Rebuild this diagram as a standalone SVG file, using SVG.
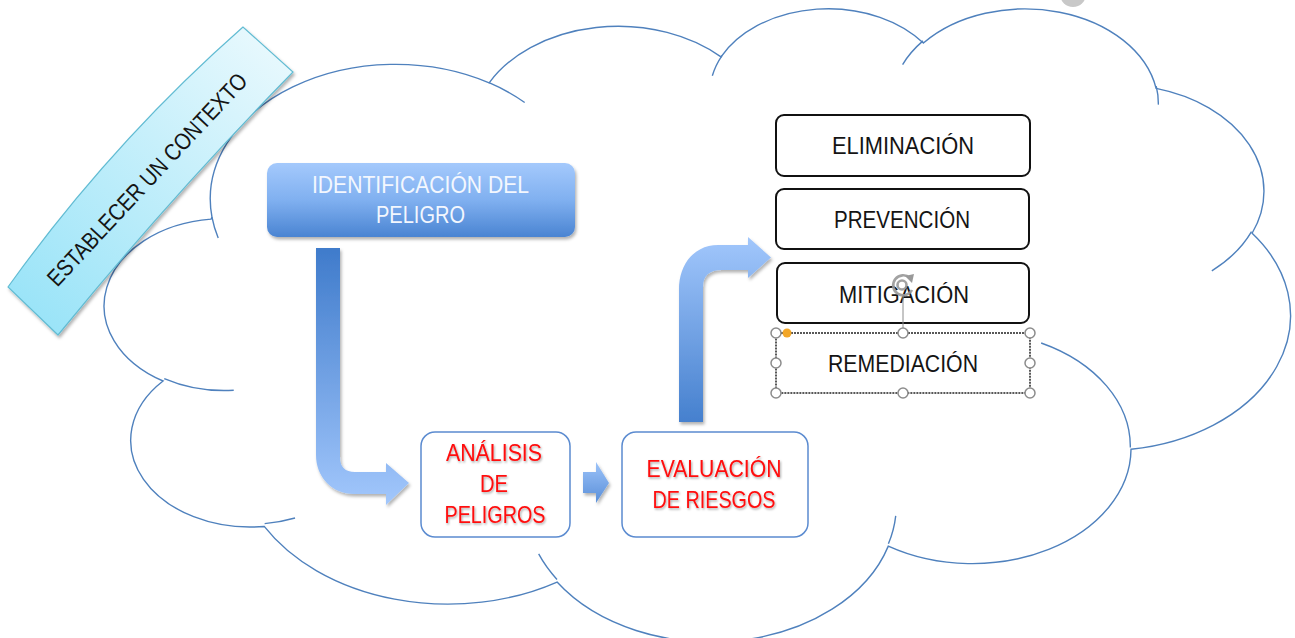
<svg xmlns="http://www.w3.org/2000/svg" width="1295" height="638" viewBox="0 0 1295 638">
<defs>
<linearGradient id="gId" x1="0" y1="0" x2="0" y2="1"><stop offset="0" stop-color="#A4C9FC"/><stop offset="0.5" stop-color="#80B0F0"/><stop offset="1" stop-color="#4A84D2"/></linearGradient>
<linearGradient id="gBan" gradientUnits="userSpaceOnUse" x1="268" y1="50" x2="33" y2="311"><stop offset="0" stop-color="#E6F8FD"/><stop offset="1" stop-color="#9BE4F8"/></linearGradient>
<linearGradient id="gA1" gradientUnits="userSpaceOnUse" x1="0" y1="248" x2="0" y2="505"><stop offset="0" stop-color="#3F7BCB"/><stop offset="1" stop-color="#A2C7FC"/></linearGradient>
<linearGradient id="gA2" gradientUnits="userSpaceOnUse" x1="0" y1="462" x2="0" y2="503"><stop offset="0" stop-color="#9CC3F9"/><stop offset="1" stop-color="#5A8FD9"/></linearGradient>
<linearGradient id="gA3" gradientUnits="userSpaceOnUse" x1="0" y1="422" x2="0" y2="237"><stop offset="0" stop-color="#4580CE"/><stop offset="1" stop-color="#A2C7FC"/></linearGradient>
<filter id="sh" x="-10%" y="-10%" width="130%" height="140%"><feDropShadow dx="1.5" dy="2.5" stdDeviation="1.8" flood-color="#000" flood-opacity="0.3"/></filter>
<filter id="tsh" x="-10%" y="-20%" width="130%" height="150%"><feDropShadow dx="1" dy="1.5" stdDeviation="1" flood-color="#000" flood-opacity="0.35"/></filter>
</defs>
<style>
.cl{fill:#fff;stroke:#4F81BD;stroke-width:1.4;vector-effect:non-scaling-stroke}
.tl{fill:none;stroke:#4F81BD;stroke-width:1.4;vector-effect:non-scaling-stroke}
.t{font-family:"Liberation Sans",Arial,sans-serif;font-size:23.5px;text-anchor:middle}
.red{fill:#FF0A0A;font-size:24px}
.blk{fill:#141414}
.wb{fill:#fff;stroke:#111;stroke-width:2}
.bb{fill:#fff;stroke:#5B8BD0;stroke-width:1.5}
.h{fill:#fff;stroke:#8C8C8C;stroke-width:1.5}
</style>
<rect width="1295" height="638" fill="#fff"/>
<circle cx="1073" cy="-6" r="13" fill="#C8C8C8"/>
<g id="cloud" transform="translate(105,6.6) scale(0.02743,0.014654)">
<path class="cl" d="M3900,14370 A6753,9190 0 0 1 14005,5202 A5333,7267 0 0 1 22458,3435 A4365,5945 0 0 1 29836,2486 A4857,6595 0 0 1 38320,5584 A5333,7273 0 0 1 41820,15468 A6775,9220 0 0 1 37405,30208 A5785,7867 0 0 1 28556,36818 A6752,9215 0 0 1 16481,39269 A7720,10543 0 0 1 5805,35474 A4360,5918 0 0 1 2116,25549 A4345,5945 0 0 1 3866,14505 Z"/>
<path class="tl" d="M4693,26177 A4345,5945 0 0 1 2160,25380 M6928,34899 A4360,5918 0 0 1 5820,35281 M16478,39090 A6752,9215 0 0 1 15810,37350 M28827,34751 A6752,9215 0 0 1 28560,36661 M34129,22954 A5785,7867 0 0 1 37380,30090 M41798,15354 A5333,7273 0 0 1 40351,18029 M38324,5426 A4857,6595 0 0 1 38400,6690 M29078,3952 A4857,6595 0 0 1 29821,2338 M22141,4720 A4365,5945 0 0 1 22500,3330 M14000,5192 A6753,9190 0 0 1 15300,6541 M4127,15789 A6753,9190 0 0 1 3900,14370"/>
</g>
<g id="banner">
<path d="M8,287 Q110.7,143.6 243,27 L293,72 Q169.6,198.1 58,335 Z" fill="url(#gBan)" stroke="#62BCD3" stroke-width="1.2" filter="url(#sh)"/>
<text class="t blk" transform="translate(153,185) rotate(-47)" textLength="281" lengthAdjust="spacingAndGlyphs">ESTABLECER UN CONTEXTO</text>
</g>
<g id="identificacion">
<rect x="267" y="163" width="308" height="74" rx="10" fill="url(#gId)" filter="url(#sh)"/>
<text class="t" fill="#F3F7FE" x="420.5" y="193" textLength="217" lengthAdjust="spacingAndGlyphs">IDENTIFICACIÓN DEL</text>
<text class="t" fill="#F3F7FE" x="420.5" y="223" textLength="89" lengthAdjust="spacingAndGlyphs">PELIGRO</text>
</g>
<g id="connectors">
<path d="M316,248 L340,248 L340,457 Q340,472 355,472 L386,472 L386,463 L409,483 L386,505 L386,494 L354,494 C332,494 316,477 316,455 Z" fill="url(#gA1)" filter="url(#sh)"/>
<path d="M583,472 L596,472 L596,462 L609,483 L596,503 L596,493 L583,493 Z" fill="url(#gA2)" filter="url(#sh)"/>
<path d="M679,422 L703,422 L703,287 Q703,270 722,270 L748,270 L748,278 L771,257.5 L748,237 L748,245 L718,245 C696,245 679,262 679,290 Z" fill="url(#gA3)" filter="url(#sh)"/>
</g>
<g id="analisis">
<rect class="bb" x="421" y="432" width="149" height="105" rx="14"/>
<g filter="url(#tsh)">
<text class="t red" x="494" y="461" textLength="96" lengthAdjust="spacingAndGlyphs">ANÁLISIS</text>
<text class="t red" x="494" y="492" textLength="28" lengthAdjust="spacingAndGlyphs">DE</text>
<text class="t red" x="495" y="523" textLength="101" lengthAdjust="spacingAndGlyphs">PELIGROS</text>
</g>
</g>
<g id="evaluacion">
<rect class="bb" x="622" y="432" width="186" height="105" rx="14"/>
<g filter="url(#tsh)">
<text class="t red" x="714" y="477" textLength="135" lengthAdjust="spacingAndGlyphs">EVALUACIÓN</text>
<text class="t red" x="714" y="508" textLength="123" lengthAdjust="spacingAndGlyphs">DE RIESGOS</text>
</g>
</g>
<g id="eliminacion">
<rect class="wb" x="776" y="115" width="254" height="61" rx="8"/>
<text class="t blk" x="903" y="154" textLength="142" lengthAdjust="spacingAndGlyphs">ELIMINACIÓN</text>
</g>
<g id="prevencion">
<rect class="wb" x="776" y="189" width="253" height="60" rx="8"/>
<text class="t blk" x="902" y="228" textLength="136" lengthAdjust="spacingAndGlyphs">PREVENCIÓN</text>
</g>
<g id="mitigacion">
<rect class="wb" x="777" y="263" width="252" height="60" rx="8"/>
<text class="t blk" x="904" y="303" textLength="130" lengthAdjust="spacingAndGlyphs">MITIGACIÓN</text>
</g>
<g id="remediacion">
<rect x="776" y="333" width="254" height="60" rx="6" fill="#fff" stroke="#222" stroke-width="1.5" stroke-dasharray="2 1"/>
<text class="t blk" x="903" y="372" textLength="150" lengthAdjust="spacingAndGlyphs">REMEDIACIÓN</text>
<line x1="903" y1="296" x2="903" y2="333" stroke="#8C8C8C" stroke-width="1"/>
<g fill="none" stroke="#999" stroke-width="2.6" opacity="0.9">
<path d="M910,278 A10,10 0 1 0 912,290"/>
<circle cx="902" cy="285" r="4.5"/>
</g>
<path d="M905,276 L914,274 L912,283 Z" fill="#999"/>
<circle class="h" cx="776" cy="333" r="5"/>
<circle class="h" cx="903" cy="333" r="5"/>
<circle class="h" cx="1030" cy="333" r="5"/>
<circle class="h" cx="776" cy="363" r="5"/>
<circle class="h" cx="1030" cy="363" r="5"/>
<circle class="h" cx="776" cy="393" r="5"/>
<circle class="h" cx="903" cy="393" r="5"/>
<circle class="h" cx="1030" cy="393" r="5"/>
<circle cx="787" cy="333" r="4.5" fill="#F2A628"/>
</g>
</svg>
